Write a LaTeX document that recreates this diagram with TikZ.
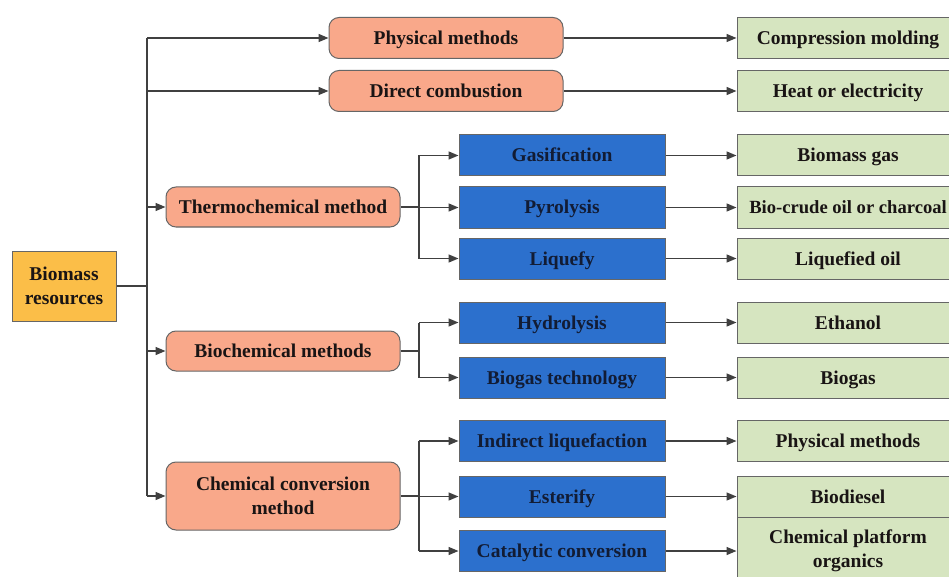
\documentclass[tikz,border=0pt]{standalone}
\usepackage{fontspec}
\setmainfont{Liberation Serif}
\usetikzlibrary{arrows.meta}
\definecolor{srcfill}{RGB}{251,190,72}
\definecolor{methfill}{RGB}{249,168,138}
\definecolor{procfill}{RGB}{44,112,205}
\definecolor{prodfill}{RGB}{214,229,192}
\definecolor{edge}{RGB}{64,64,64}
\definecolor{txt}{RGB}{25,20,20}
\definecolor{ptxt}{RGB}{18,28,52}
\tikzset{
  boxbase/.style={draw=edge!80, line width=1pt, text=txt, inner sep=0pt, align=center,
    font=\bfseries\fontsize{19.5}{24}\selectfont},
  oneline/.style={text height=15pt, text depth=2pt},
  srcbox/.style={boxbase, fill=srcfill, minimum width=104pt, minimum height=70pt},
  methcore/.style={boxbase, fill=methfill, rounded corners=10pt, minimum width=234pt, minimum height=41pt},
  methbox/.style={methcore, oneline},
  procbox/.style={boxbase, oneline, text=ptxt, fill=procfill, minimum width=206pt, minimum height=41pt},
  prodcore/.style={boxbase, fill=prodfill, minimum width=222pt, minimum height=41pt},
  prodbox/.style={prodcore, oneline},
  link/.style={draw=edge, line width=1.4pt},
  arr/.style={link, -{Triangle[length=10pt,width=8pt]}}
}
\begin{document}
\begin{tikzpicture}[x=1pt,y=-1pt]
\useasboundingbox (0,0) rectangle (949,577);
\clip (0,0) rectangle (949,577);
\fill[white] (0,0) rectangle (949,577);
% source
\node[srcbox] (bio) at (64,286) {Biomass\\resources};
% methods
\node[methbox] (phys) at (446,38) {Physical methods};
\node[methbox] (dcomb) at (446,91) {Direct combustion};
\node[methbox, minimum height=40pt] (thermo) at (283,207) {Thermochemical method};
\node[methbox, minimum height=40pt] (biochem) at (283,351) {Biochemical methods};
\node[methcore, minimum height=68pt] (chemconv) at (283,496) {Chemical conversion\\method};
% processes
\node[procbox] (gas) at (562,155.5) {Gasification};
\node[procbox] (pyr) at (562,207.5) {Pyrolysis};
\node[procbox] (liq) at (562,258.5) {Liquefy};
\node[procbox] (hyd) at (562,322.5) {Hydrolysis};
\node[procbox] (bgt) at (562,377.5) {Biogas technology};
\node[procbox] (ind) at (562,441) {Indirect liquefaction};
\node[procbox] (est) at (562,496.5) {Esterify};
\node[procbox] (cat) at (562,551) {Catalytic conversion};
% products
\node[prodbox] (comp) at (848,38) {Compression molding};
\node[prodbox] (heat) at (848,91) {Heat or electricity};
\node[prodbox] (bgas) at (848,155.5) {Biomass gas};
\node[prodbox] (crude) at (848,207.5) {\fontsize{18.6}{24}\selectfont Bio-crude oil or charcoal};
\node[prodbox] (lqoil) at (848,258.5) {Liquefied oil};
\node[prodbox] (eth) at (848,322.5) {Ethanol};
\node[prodbox] (biogas) at (848,377.5) {Biogas};
\node[prodbox] (physm) at (848,441) {Physical methods};
\node[prodbox] (bdsl) at (848,496.5) {Biodiesel};
\node[prodcore, minimum height=68pt] (chplat) at (848,551) {Chemical platform\\organics};
% trunk
\coordinate (tk) at (147,0);
\draw[link] (phys.west -| tk) -- (chemconv.west -| tk);
\draw[link] (bio.east) -- (bio.east -| tk);
\draw[arr] (phys.west -| tk) -- (phys.west);
\draw[arr] (dcomb.west -| tk) -- (dcomb.west);
\draw[arr] (thermo.west -| tk) -- (thermo.west);
\draw[arr] (biochem.west -| tk) -- (biochem.west);
\draw[arr] (chemconv.west -| tk) -- (chemconv.west);
% branches
\coordinate (br) at (419,0);
\draw[link] (thermo.east) -- (thermo.east -| br);
\draw[link] (gas.west -| br) -- (liq.west -| br);
\draw[arr] (gas.west -| br) -- (gas.west);
\draw[arr] (pyr.west -| br) -- (pyr.west);
\draw[arr] (liq.west -| br) -- (liq.west);
\draw[link] (biochem.east) -- (biochem.east -| br);
\draw[link] (hyd.west -| br) -- (bgt.west -| br);
\draw[arr] (hyd.west -| br) -- (hyd.west);
\draw[arr] (bgt.west -| br) -- (bgt.west);
\draw[link] (chemconv.east) -- (chemconv.east -| br);
\draw[link] (ind.west -| br) -- (cat.west -| br);
\draw[arr] (ind.west -| br) -- (ind.west);
\draw[arr] (est.west -| br) -- (est.west);
\draw[arr] (cat.west -| br) -- (cat.west);
% to products
\draw[arr] (phys.east) -- (comp.west);
\draw[arr] (dcomb.east) -- (heat.west);
\draw[arr] (gas.east) -- (bgas.west);
\draw[arr] (pyr.east) -- (crude.west);
\draw[arr] (liq.east) -- (lqoil.west);
\draw[arr] (hyd.east) -- (eth.west);
\draw[arr] (bgt.east) -- (biogas.west);
\draw[arr] (ind.east) -- (physm.west);
\draw[arr] (est.east) -- (bdsl.west);
\draw[arr] (cat.east) -- (chplat.west);
\end{tikzpicture}
\end{document}
